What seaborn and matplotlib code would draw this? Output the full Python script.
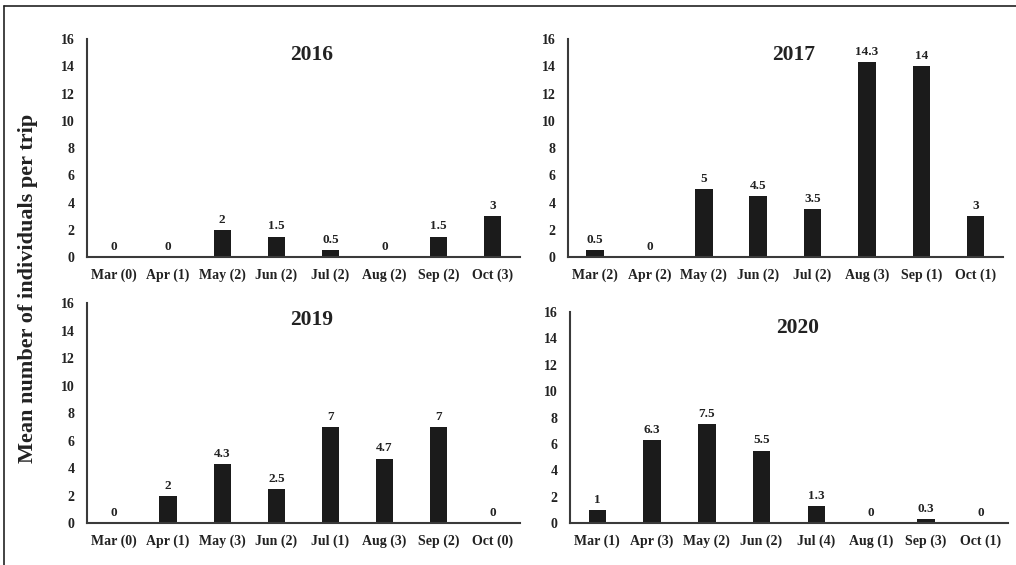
import matplotlib
matplotlib.use("Agg")
import matplotlib.pyplot as plt
from matplotlib.lines import Line2D
import seaborn as sns
import pandas as pd

sns.set_theme(style="white")
plt.rcParams["font.family"] = ["Liberation Serif", "DejaVu Serif"]
plt.rcParams["font.weight"] = "bold"

months = ["Mar", "Apr", "May", "Jun", "Jul", "Aug", "Sep", "Oct"]

# number of trips per month, shown in brackets under each bar
trips_2016 = [0, 1, 2, 2, 2, 2, 2, 3]
trips_2017 = [2, 2, 2, 2, 2, 3, 1, 1]
trips_2019 = [0, 1, 3, 2, 1, 3, 2, 0]
trips_2020 = [1, 3, 2, 2, 4, 1, 3, 1]

# mean number of individuals per trip
mean_2016 = [0, 0, 2, 1.5, 0.5, 0, 1.5, 3]
mean_2017 = [0.5, 0, 5, 4.5, 3.5, 14.3, 14, 3]
mean_2019 = [0, 2, 4.3, 2.5, 7, 4.7, 7, 0]
mean_2020 = [1, 6.3, 7.5, 5.5, 1.3, 0, 0.3, 0]

years = ["2016", "2017", "2019", "2020"]
panels = {
    "2016": (mean_2016, trips_2016),
    "2017": (mean_2017, trips_2017),
    "2019": (mean_2019, trips_2019),
    "2020": (mean_2020, trips_2020),
}

# axes rectangles in figure fractions
boxes = {
    "2016": [0.0856, 0.545, 0.426, 0.386],
    "2017": [0.559, 0.545, 0.428, 0.386],
    "2019": [0.0856, 0.074, 0.426, 0.389],
    "2020": [0.561, 0.074, 0.431, 0.374],
}

bar_color = "#1b1b1b"
text_color = "#222222"
axis_color = "#3a3a3a"

fig = plt.figure(figsize=(10.16, 5.65), dpi=100)

for year in years:
    means, trips = panels[year]
    labels = [f"{m} ({t})" for m, t in zip(months, trips)]
    df = pd.DataFrame({"month": labels, "mean": means})
    ax = fig.add_axes(boxes[year])
    sns.barplot(data=df, x="month", y="mean", color=bar_color, width=0.32,
                saturation=1, ax=ax)
    for patch in ax.patches:
        patch.set_edgecolor("none")
    ax.bar_label(ax.containers[0], fmt="%g", padding=3, fontsize=9.5,
                 fontweight="bold", color=text_color)
    ax.set_xlim(-0.5, 7.5)
    ax.set_ylim(0, 16)
    ax.set_yticks(range(0, 17, 2))
    ax.set_xlabel("")
    ax.set_ylabel("")
    ax.tick_params(axis="both", length=0, labelsize=10, colors=text_color)
    ax.tick_params(axis="x", pad=8)
    ax.tick_params(axis="y", pad=9)
    for lab in ax.get_xticklabels() + ax.get_yticklabels():
        lab.set_fontweight("bold")
    for side in ["top", "right"]:
        ax.spines[side].set_visible(False)
    for side in ["left", "bottom"]:
        ax.spines[side].set_color(axis_color)
        ax.spines[side].set_linewidth(1.5)
    ax.text(0.52, 0.925, year, transform=ax.transAxes, ha="center",
            va="center", fontsize=15.5, fontweight="bold", color=text_color)

fig.text(0.028, 0.49, "Mean number of individuals per trip", rotation=90,
         ha="center", va="center", fontsize=16, fontweight="bold",
         color=text_color)

# outer frame along the top and left edges
fig.add_artist(Line2D([0.004, 1.0], [0.989, 0.989], transform=fig.transFigure,
                      color="#222222", linewidth=1.2))
fig.add_artist(Line2D([0.004, 0.004], [0.0, 0.989], transform=fig.transFigure,
                      color="#222222", linewidth=1.2))

fig.savefig("out.png", dpi=100)
